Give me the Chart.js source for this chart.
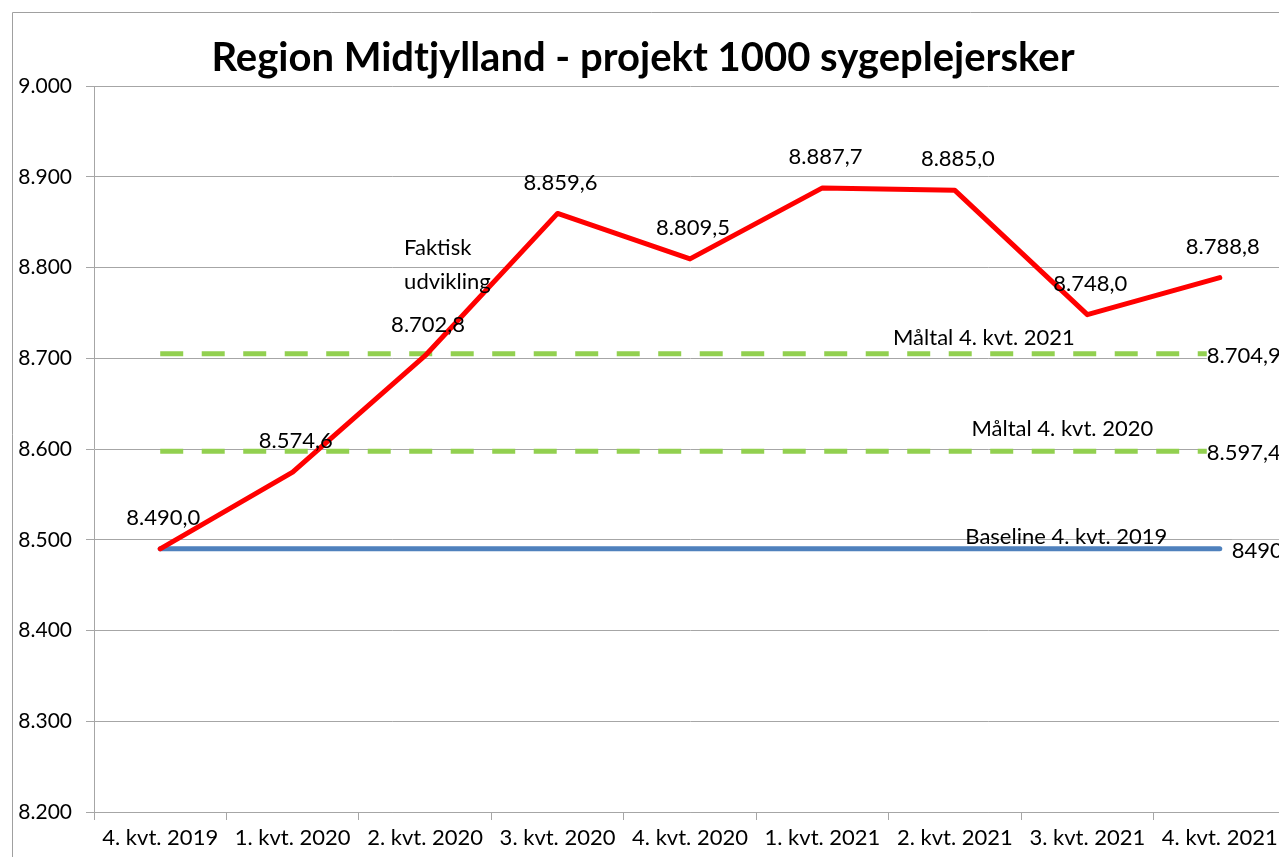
<!DOCTYPE html>
<html><head><meta charset="utf-8">
<script src="https://cdn.jsdelivr.net/npm/chart.js@4.4.1/dist/chart.umd.min.js"></script>
<style>
html,body{margin:0;padding:0;overflow:hidden;background:#fff;width:1279px;height:857px}
#wrap{position:absolute;left:0;top:0;width:1290px;height:857px}
</style>
</head><body><div id="wrap"><canvas id="c" width="1290" height="857"></canvas></div>
<script>
const titleText = 'Region Midtjylland - projekt 1000 sygeplejersker';
const categories = ['4. kvt. 2019','1. kvt. 2020','2. kvt. 2020','3. kvt. 2020','4. kvt. 2020','1. kvt. 2021','2. kvt. 2021','3. kvt. 2021','4. kvt. 2021'];
const faktisk = [8490.0, 8574.6, 8702.8, 8859.6, 8809.5, 8887.7, 8885.0, 8748.0, 8788.8];
const maaltal2021 = [8704.9, 8704.9, 8704.9, 8704.9, 8704.9, 8704.9, 8704.9, 8704.9, 8704.9];
const maaltal2020 = [8597.4, 8597.4, 8597.4, 8597.4, 8597.4, 8597.4, 8597.4, 8597.4, 8597.4];
const baseline = [8490, 8490, 8490, 8490, 8490, 8490, 8490, 8490, 8490];
const seriesNames = ['Faktisk udvikling', 'Måltal 4. kvt. 2021', 'Måltal 4. kvt. 2020', 'Baseline 4. kvt. 2019'];
const endLabels = ['8.704,9', '8.597,4', '8490'];
const yMin = 8200, yMax = 9000, yStep = 100;

const FONT = 'Lato';

function fmtDK(v, dec) {
  const s = Number(v).toFixed(dec);
  const parts = s.split('.');
  const i = parts[0].replace(/\B(?=(\d{3})+(?!\d))/g, '.');
  return parts.length > 1 ? i + ',' + parts[1] : i;
}

const framePlugin = {
  id: 'frame',
  beforeDraw(chart) {
    const ctx = chart.ctx;
    ctx.save();
    ctx.fillStyle = '#fff';
    ctx.fillRect(0, 0, chart.width, chart.height);
    ctx.strokeStyle = '#a0a0a0';
    ctx.lineWidth = 1;
    ctx.beginPath();
    ctx.moveTo(12.5, chart.height);
    ctx.lineTo(12.5, 12.5);
    ctx.lineTo(chart.width, 12.5);
    ctx.stroke();
    ctx.restore();
  }
};

const labelPlugin = {
  id: 'labels',
  afterDatasetsDraw(chart) {
    const ctx = chart.ctx;
    const red = chart.getDatasetMeta(0).data;
    const g21 = chart.getDatasetMeta(1).data;
    const g20 = chart.getDatasetMeta(2).data;
    const bl = chart.getDatasetMeta(3).data;
    const last = categories.length - 1;
    ctx.save();
    ctx.fillStyle = '#000';
    ctx.font = '22px ' + FONT;
    ctx.textBaseline = 'middle';
    ctx.textAlign = 'center';
    red.forEach((p, i) => ctx.fillText(fmtDK(faktisk[i], 1), p.x + 3, p.y - 31));
    ctx.textAlign = 'left';
    const nm = seriesNames[0].split(' ');
    ctx.fillText(nm[0], red[2].x - 21, red[2].y - 108);
    ctx.fillText(nm[1], red[2].x - 21, red[2].y - 74);
    ctx.textAlign = 'center';
    ctx.fillText(seriesNames[1], g21[6].x + 29, g21[6].y - 16);
    ctx.fillText(seriesNames[2], g20[7].x - 25, g20[7].y - 22);
    ctx.fillText(seriesNames[3], bl[7].x - 21, bl[7].y - 12);
    ctx.textAlign = 'left';
    const ends = [[g21[last], endLabels[0], -13, 2], [g20[last], endLabels[1], -13, 2], [bl[last], endLabels[2], 12, 2]];
    ends.forEach(([p, t, dx, dy]) => {
      const w = ctx.measureText(t).width;
      ctx.fillStyle = '#fff';
      ctx.fillRect(p.x + dx, p.y + dy - 11, w + 2, 22);
      ctx.fillStyle = '#000';
      ctx.fillText(t, p.x + dx, p.y + dy);
    });
    ctx.restore();
  }
};

new Chart(document.getElementById('c'), {
  type: 'line',
  data: {
    labels: categories,
    datasets: [
      { label: seriesNames[0], data: faktisk, borderColor: '#FF0000', borderWidth: 5, pointRadius: 0, tension: 0, borderJoinStyle: 'round', borderCapStyle: 'round', fill: false },
      { label: seriesNames[1], data: maaltal2021, borderColor: '#92D050', borderWidth: 5, borderDash: [23, 18.5], pointRadius: 0, borderCapStyle: 'butt', fill: false },
      { label: seriesNames[2], data: maaltal2020, borderColor: '#92D050', borderWidth: 5, borderDash: [23, 18.5], pointRadius: 0, borderCapStyle: 'butt', fill: false },
      { label: seriesNames[3], data: baseline, borderColor: '#4F81BD', borderWidth: 5, pointRadius: 0, borderCapStyle: 'round', fill: false }
    ]
  },
  options: {
    responsive: false,
    animation: false,
    devicePixelRatio: 1,
    layout: { padding: { left: 0, right: 4, top: 0, bottom: 0 } },
    plugins: {
      legend: { display: false },
      tooltip: { enabled: false },
      title: {
        display: true, text: titleText, color: '#000',
        font: { family: FONT, size: 40, weight: 'bold' },
        padding: { top: 34, bottom: 4 }
      }
    },
    scales: {
      x: {
        offset: true,
        grid: { offset: true, drawOnChartArea: false, drawTicks: true, tickLength: 8, color: '#a6a6a6' },
        border: { color: '#a6a6a6', width: 1 },
        ticks: { color: '#000', font: { family: FONT, size: 22 }, padding: 5, maxRotation: 0, autoSkip: false },
        afterFit(s) { s.height = 45; }
      },
      y: {
        min: yMin, max: yMax,
        grid: { color: '#a6a6a6', tickLength: 8 },
        border: { color: '#a6a6a6', width: 1 },
        ticks: { stepSize: yStep, color: '#000', font: { family: FONT, size: 21 }, padding: 14, callback: v => fmtDK(v, 0) },
        afterFit(s) { s.width = 94; }
      }
    }
  },
  plugins: [framePlugin, labelPlugin]
});
</script>
</body></html>
